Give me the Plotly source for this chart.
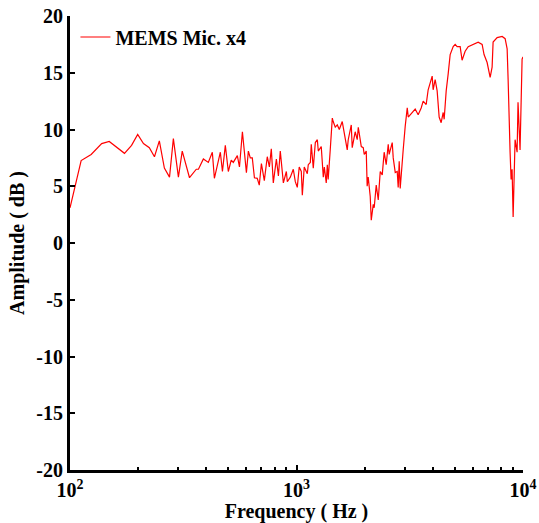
import plotly.graph_objects as go

freq_hz = [100, 112, 124, 138, 149, 174, 187, 199, 211, 224, 236, 248, 261, 275, 286, 301, 313, 327,
           337, 361, 369, 388, 408, 425, 434, 461, 471, 485, 500, 515, 526, 548, 560, 577, 601, 613,
           625, 638, 652, 671, 685, 700, 721, 743, 759, 774, 790, 815, 832, 848, 875, 902, 911, 939,
           968, 988, 1008, 1028, 1050, 1061, 1082, 1116, 1127, 1151, 1162, 1186, 1211, 1236, 1248,
           1286, 1313, 1327, 1353, 1368, 1380, 1409, 1439, 1452, 1483, 1514, 1545, 1592, 1626, 1675,
           1692, 1745, 1762, 1816, 1854, 1874, 1932, 1971, 1991, 2032, 2051, 2073, 2116, 2138, 2182,
           2203, 2249, 2296, 2343, 2391, 2438, 2489, 2541, 2565, 2646, 2673, 2729, 2784, 2812, 2841,
           2870, 2929, 2958, 3020, 3083, 3114, 3243, 3342, 3445, 3552, 3625, 3737, 3813, 3891, 3972,
           4011, 4094, 4178, 4264, 4352, 4442, 4487, 4580, 4674, 4769, 4918, 5018, 5119, 5279, 5383,
           5554, 5728, 6026, 6339, 6600, 6731, 6944, 7161, 7305, 7379, 7688, 8090, 8340, 8511, 8596,
           8684, 8770, 8860, 8950, 9045, 9135, 9226, 9419, 9506, 9705, 9908, 10000]

amplitude_db = [3.1, 7.26, 7.8, 8.76, 8.94, 7.9, 8.6, 9.56, 8.76, 8.4, 7.6, 9.0, 6.6, 5.8, 9.2, 5.8, 8.1, 6.7,
                5.75, 6.5, 6.5, 7.4, 7.1, 8.0, 5.7, 8.0, 6.3, 8.6, 6.3, 7.3, 7.1, 7.7, 6.7, 9.8, 6.2, 8.1,
                7.5, 7.5, 5.75, 5.7, 5.1, 7.0, 5.5, 7.6, 6.7, 8.3, 5.3, 7.4, 5.9, 8.1, 5.3, 6.3, 5.4, 5.8,
                6.5, 5.4, 4.9, 6.7, 6.3, 4.2, 6.7, 6.1, 6.9, 7.1, 8.7, 6.6, 8.85, 9.1, 8.1,
                8.5, 5.8, 6.7, 5.3, 6.9, 5.6, 8.2, 11.0, 10.7, 10.2, 10.4, 10.0, 10.7, 9.7, 8.2,
                9.1, 10.4, 8.4, 9.8, 9.1, 10.2, 8.5, 8.4, 7.8, 8.1, 5.0, 5.8, 4.1, 2.0, 3.4,
                3.1, 5.1, 3.8, 6.3, 6.0, 8.0, 6.9, 8.7, 7.8, 8.85, 7.5, 6.2, 6.3, 4.9, 7.2,
                4.8, 7.6, 8.2, 10.3, 11.9, 11.1, 11.5, 11.8, 11.3, 11.9, 12.5, 12.2, 13.5, 14.0, 14.7,
                13.5, 14.4, 13.4, 11.1, 10.6, 11.5, 10.9, 13.4, 14.9, 16.6, 17.3, 17.5, 17.3, 17.3, 16.1,
                16.9, 17.3, 17.5, 17.7, 17.5, 16.6, 15.9, 14.6, 15.5, 17.7, 18.1, 18.2, 18.0, 17.1, 14.4,
                9.4, 8.0, 5.6, 6.5, 2.3, 7.3, 9.1, 8.0, 12.4, 8.2, 16.2, 16.4]

series_name = "MEMS Mic. x4"
x_major_ticks = [100, 1000, 10000]
x_major_labels = ["10<sup>2</sup>", "10<sup>3</sup>", "10<sup>4</sup>"]
x_minor_ticks = [200, 300, 400, 500, 600, 700, 800, 900,
                 2000, 3000, 4000, 5000, 6000, 7000, 8000, 9000]
y_ticks = [-20, -15, -10, -5, 0, 5, 10, 15, 20]
y_labels = ["-20", "-15", "-10", "-5", "0", "5", "10", "15", "20"]

FONT = "Liberation Serif, Times New Roman, serif"

fig = go.Figure()
fig.add_trace(go.Scatter(x=freq_hz, y=amplitude_db, mode="lines", name=series_name,
                         line=dict(color="#ff0000", width=1.2)))

fig.update_layout(
    width=539, height=523,
    margin=dict(l=70, r=16, t=16, b=53),
    paper_bgcolor="white", plot_bgcolor="white",
    font=dict(family=FONT, color="black", weight="bold"),
    showlegend=True,
    legend=dict(x=0.012, y=0.9537, xanchor="left", yanchor="middle",
                bgcolor="rgba(0,0,0,0)",
                font=dict(size=20, family=FONT, color="black", weight="bold"),
                itemwidth=30, tracegroupgap=0),
)

fig.update_xaxes(
    type="log", range=[2, 4],
    showline=True, linecolor="black", linewidth=3,
    showgrid=False, zeroline=False,
    tickmode="array", tickvals=x_major_ticks, ticktext=x_major_labels,
    ticks="inside", ticklen=5, tickwidth=2, tickcolor="black",
    tickfont=dict(size=20, family=FONT, color="black", weight="bold"),
    ticklabeloverflow="allow",
    minor=dict(tickmode="array", tickvals=x_minor_ticks, ticks="inside", ticklen=3,
               tickwidth=2, tickcolor="black", showgrid=False),
    title=dict(text="Frequency ( Hz )", font=dict(size=20, family=FONT, weight="bold"), standoff=2),
    automargin=False,
)

fig.update_yaxes(
    range=[-20, 20],
    showline=True, linecolor="black", linewidth=3,
    showgrid=False, zeroline=False,
    tickmode="array", tickvals=y_ticks, ticktext=y_labels,
    ticks="inside", ticklen=5, tickwidth=2, tickcolor="black",
    tickfont=dict(size=20, family=FONT, color="black", weight="bold"),
    ticklabeloverflow="allow",
    title=dict(text="Amplitude ( dB )", font=dict(size=20, family=FONT, weight="bold"), standoff=7),
    automargin=False,
)

fig.write_html("out.html",
               config={"displayModeBar": False},
               post_script="document.body.style.margin='0';document.body.style.padding='0';")
